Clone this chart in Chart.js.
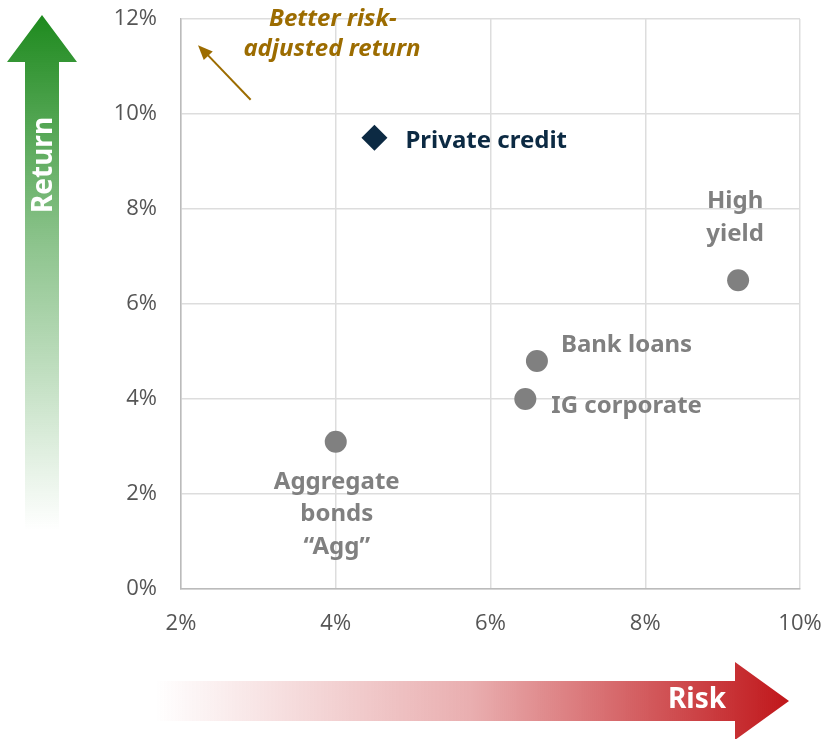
<!DOCTYPE html>
<html>
<head>
<meta charset="utf-8">
<script src="https://cdn.jsdelivr.net/npm/chart.js@4"></script>
<style>
  html, body { margin: 0; padding: 0; background: #fff; }
  #wrap { width: 823px; height: 739px; }
</style>
</head>
<body>
<div id="wrap"><canvas id="riskChart" width="823" height="739"></canvas></div>
<script>
const names = ["Private credit", "High yield", "Bank loans", "IG corporate", "Aggregate bonds “Agg”"];
const risk = [4.5, 9.2, 6.6, 6.45, 4.0];
const ret = [9.5, 6.5, 4.8, 4.0, 3.1];

const xTicks = [2, 4, 6, 8, 10];
const yTicks = [0, 2, 4, 6, 8, 10, 12];

const labelFont = "bold 24px 'Noto Sans'";
const grey = "#808080";
const navy = "#0c2a43";
const gold = "#9c6c00";

// label placement relative to each point
const labelLayout = [
    { dx: 31, dy: 3, align: "left", color: navy, lines: ["Private credit"] },
    { dx: -3, dy: -79, align: "center", color: grey, lines: ["High", "yield"] },
    { dx: 24, dy: -16, align: "left", color: grey, lines: ["Bank loans"] },
    { dx: 26, dy: 7, align: "left", color: grey, lines: ["IG corporate"] },
    { dx: 1, dy: 40, align: "center", color: grey, lines: ["Aggregate", "bonds", "“Agg”"] }
];

const points = risk.map((r, i) => ({ x: r, y: ret[i] }));

const decorations = {
    id: "decorations",
    beforeDraw(chart) {
        const ctx = chart.ctx;
        ctx.save();
        // Return arrow (vertical, green fading down)
        let g = ctx.createLinearGradient(0, 15, 0, 530);
        g.addColorStop(0, "rgba(30,138,30,1)");
        g.addColorStop(0.45, "rgba(30,138,30,0.5)");
        g.addColorStop(1, "rgba(30,138,30,0)");
        ctx.fillStyle = g;
        ctx.beginPath();
        ctx.moveTo(42, 15);
        ctx.lineTo(77, 62);
        ctx.lineTo(59, 62);
        ctx.lineTo(59, 530);
        ctx.lineTo(25, 530);
        ctx.lineTo(25, 62);
        ctx.lineTo(7, 62);
        ctx.closePath();
        ctx.fill();

        ctx.save();
        ctx.translate(44, 165);
        ctx.rotate(-Math.PI / 2);
        ctx.fillStyle = "#fff";
        ctx.font = "bold 28px 'Noto Sans'";
        ctx.textAlign = "center";
        ctx.textBaseline = "middle";
        ctx.fillText("Return", 0, 0);
        ctx.restore();

        // Risk arrow (horizontal, red fading left)
        g = ctx.createLinearGradient(155, 0, 790, 0);
        g.addColorStop(0, "rgba(192,22,26,0)");
        g.addColorStop(0.5, "rgba(192,22,26,0.35)");
        g.addColorStop(1, "rgba(192,22,26,1)");
        ctx.fillStyle = g;
        ctx.beginPath();
        ctx.moveTo(155, 681);
        ctx.lineTo(735, 681);
        ctx.lineTo(735, 662);
        ctx.lineTo(789, 701);
        ctx.lineTo(735, 740);
        ctx.lineTo(735, 721);
        ctx.lineTo(155, 721);
        ctx.closePath();
        ctx.fill();

        ctx.fillStyle = "#fff";
        ctx.font = "bold 28px 'Noto Sans'";
        ctx.textAlign = "center";
        ctx.textBaseline = "middle";
        ctx.fillText("Risk", 697, 700);
        ctx.restore();
    },
    afterDatasetsDraw(chart) {
        const ctx = chart.ctx;
        const xs = chart.scales.x, ys = chart.scales.y;
        ctx.save();
        ctx.font = labelFont;
        ctx.textBaseline = "middle";
        names.forEach((n, i) => {
            const L = labelLayout[i];
            const px = xs.getPixelForValue(risk[i]);
            const py = ys.getPixelForValue(ret[i]);
            ctx.fillStyle = L.color;
            ctx.textAlign = L.align;
            L.lines.forEach((t, k) => ctx.fillText(t, px + L.dx, py + L.dy + k * 32.5));
        });

        // annotation
        ctx.fillStyle = gold;
        ctx.font = "italic bold 24px 'Noto Sans'";
        ctx.textAlign = "center";
        ctx.fillText("Better risk-", 333, 19);
        ctx.fillText("adjusted return", 332, 49);

        const x0 = xs.getPixelForValue(2.9), y0 = ys.getPixelForValue(10.3);
        const x1 = xs.getPixelForValue(2.22), y1 = ys.getPixelForValue(11.45);
        ctx.strokeStyle = gold;
        ctx.fillStyle = gold;
        ctx.lineWidth = 2;
        ctx.beginPath();
        ctx.moveTo(x0, y0);
        ctx.lineTo(x1 + 6, y1 + 6);
        ctx.stroke();
        const a = Math.atan2(y1 - y0, x1 - x0);
        ctx.beginPath();
        ctx.moveTo(x1, y1);
        ctx.lineTo(x1 - 16 * Math.cos(a - 0.4), y1 - 16 * Math.sin(a - 0.4));
        ctx.lineTo(x1 - 16 * Math.cos(a + 0.4), y1 - 16 * Math.sin(a + 0.4));
        ctx.closePath();
        ctx.fill();
        ctx.restore();
    }
};

new Chart(document.getElementById("riskChart"), {
    type: "scatter",
    data: {
        datasets: [{
            label: "Private credit",
            data: points.slice(0, 1),
            pointStyle: "rectRot",
            pointRadius: 13,
            pointHoverRadius: 13,
            backgroundColor: navy,
            borderWidth: 0
        }, {
            label: "Public markets",
            data: points.slice(1),
            pointStyle: "circle",
            pointRadius: 11,
            pointHoverRadius: 11,
            backgroundColor: grey,
            borderWidth: 0
        }]
    },
    plugins: [decorations],
    options: {
        responsive: false,
        animation: false,
        events: [],
        layout: { padding: { top: 19, right: 23, left: 0, bottom: 0 } },
        plugins: { legend: { display: false }, tooltip: { enabled: false } },
        scales: {
            x: {
                type: "linear",
                min: 2, max: 10,
                afterBuildTicks: s => { s.ticks = xTicks.map(v => ({ value: v })); },
                afterFit: s => { s.height = 150; s.paddingLeft = 0; s.paddingRight = 0; },
                grid: { color: "#dddddd", lineWidth: 1.5, drawTicks: false },
                border: { color: "#bbbbbb", width: 1.5 },
                ticks: {
                    padding: 22,
                    color: "#555",
                    font: { family: "'Open Sans'", size: 22 },
                    callback: v => v + "%"
                }
            },
            y: {
                type: "linear",
                min: 0, max: 12,
                afterBuildTicks: s => { s.ticks = yTicks.map(v => ({ value: v })); },
                afterFit: s => { s.width = 181; s.paddingTop = 0; s.paddingBottom = 0; },
                grid: { color: "#dddddd", lineWidth: 1.5, drawTicks: false },
                border: { color: "#bbbbbb", width: 1.5 },
                ticks: {
                    padding: 24,
                    color: "#555",
                    font: { family: "'Open Sans'", size: 22 },
                    callback: v => v + "%"
                }
            }
        }
    }
});
</script>
</body>
</html>
